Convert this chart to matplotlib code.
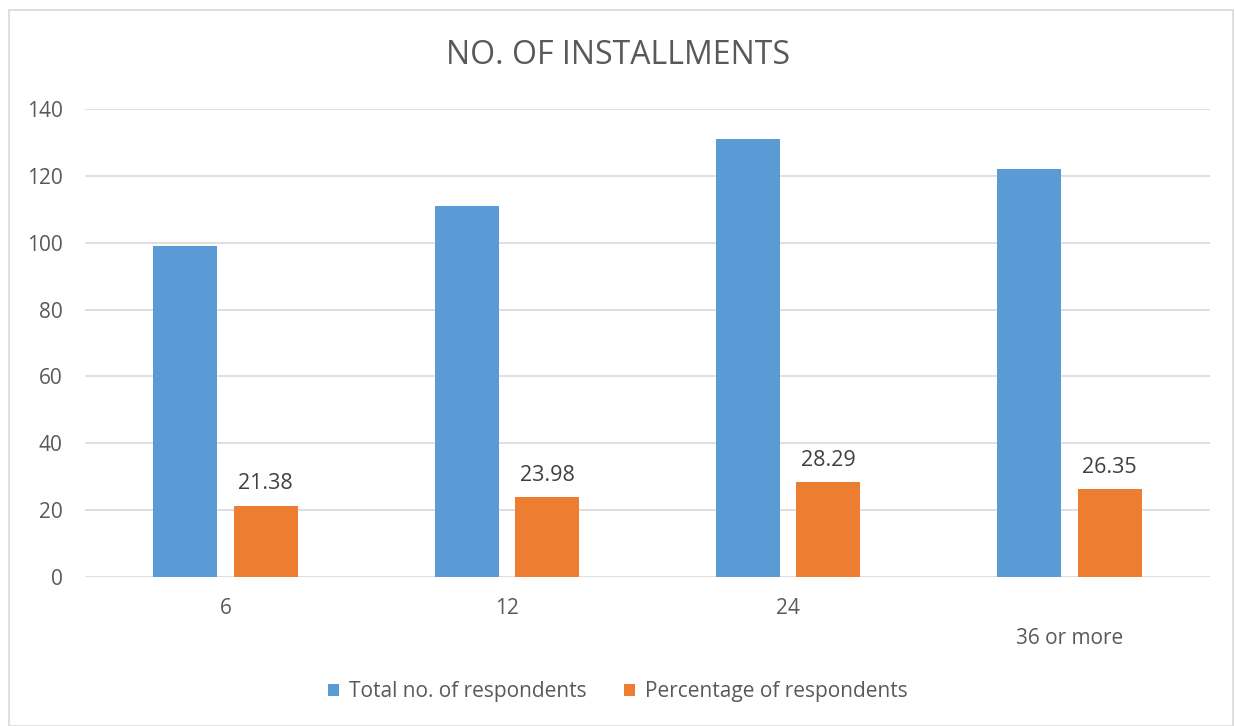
import matplotlib.pyplot as plt
from matplotlib.patches import Rectangle
import numpy as np

plt.rcParams['font.family'] = ['Open Sans', 'DejaVu Sans']

categories = ["6", "12", "24", "\n36 or more"]
total_respondents = [99, 111, 131, 122]
percentage_respondents = [21.38, 23.98, 28.29, 26.35]

blue = "#5b9bd5"
orange = "#ed7d31"
grid_grey = "#d9d9d9"
text_grey = "#595959"

fig = plt.figure(figsize=(12.35, 7.26), dpi=100)
ax = fig.add_axes([85 / 1235, (726 - 577) / 726, 1125 / 1235, 468 / 726])

# outer chart frame
fig.patches.append(Rectangle((9 / 1235, 0.0), 1224 / 1235, (726 - 10) / 726,
                             transform=fig.transFigure, fill=False,
                             edgecolor=grid_grey, linewidth=1.2))

x = np.arange(len(categories))
w = 0.228
ax.bar(x - 0.143, total_respondents, w, color=blue, label="Total no. of respondents", zorder=3)
bars = ax.bar(x + 0.143, percentage_respondents, w, color=orange,
              label="Percentage of respondents", zorder=3)

for rect, val in zip(bars, percentage_respondents):
    ax.annotate(f"{val:.2f}", (rect.get_x() + rect.get_width() / 2, val),
                xytext=(0, 8), textcoords="offset points", ha="center", va="bottom",
                fontsize=15.5, color="#404040")

ax.set_xlim(-0.5, 3.5)
ax.set_ylim(0, 140)
ax.set_yticks(range(0, 141, 20))
ax.set_xticks(x)
ax.set_xticklabels(categories, linespacing=1.55)
ax.tick_params(axis="both", length=0, labelsize=15, colors=text_grey)
ax.tick_params(axis="x", pad=15)
ax.tick_params(axis="y", pad=16)
ax.yaxis.grid(True, color=grid_grey, linewidth=1.2, zorder=0)
for s in ax.spines.values():
    s.set_visible(False)

fig.text(0.5, 1 - 56 / 726, "NO. OF INSTALLMENTS", ha="center", va="center",
         fontsize=23, color=text_grey)

fig.legend(loc="center", bbox_to_anchor=(0.5, 1 - 692 / 726), ncol=2, frameon=False,
           fontsize=15, labelcolor=text_grey, handlelength=0.55, handleheight=0.55,
           handletextpad=0.45, columnspacing=1.8)

fig.savefig("out.png", dpi=100)
